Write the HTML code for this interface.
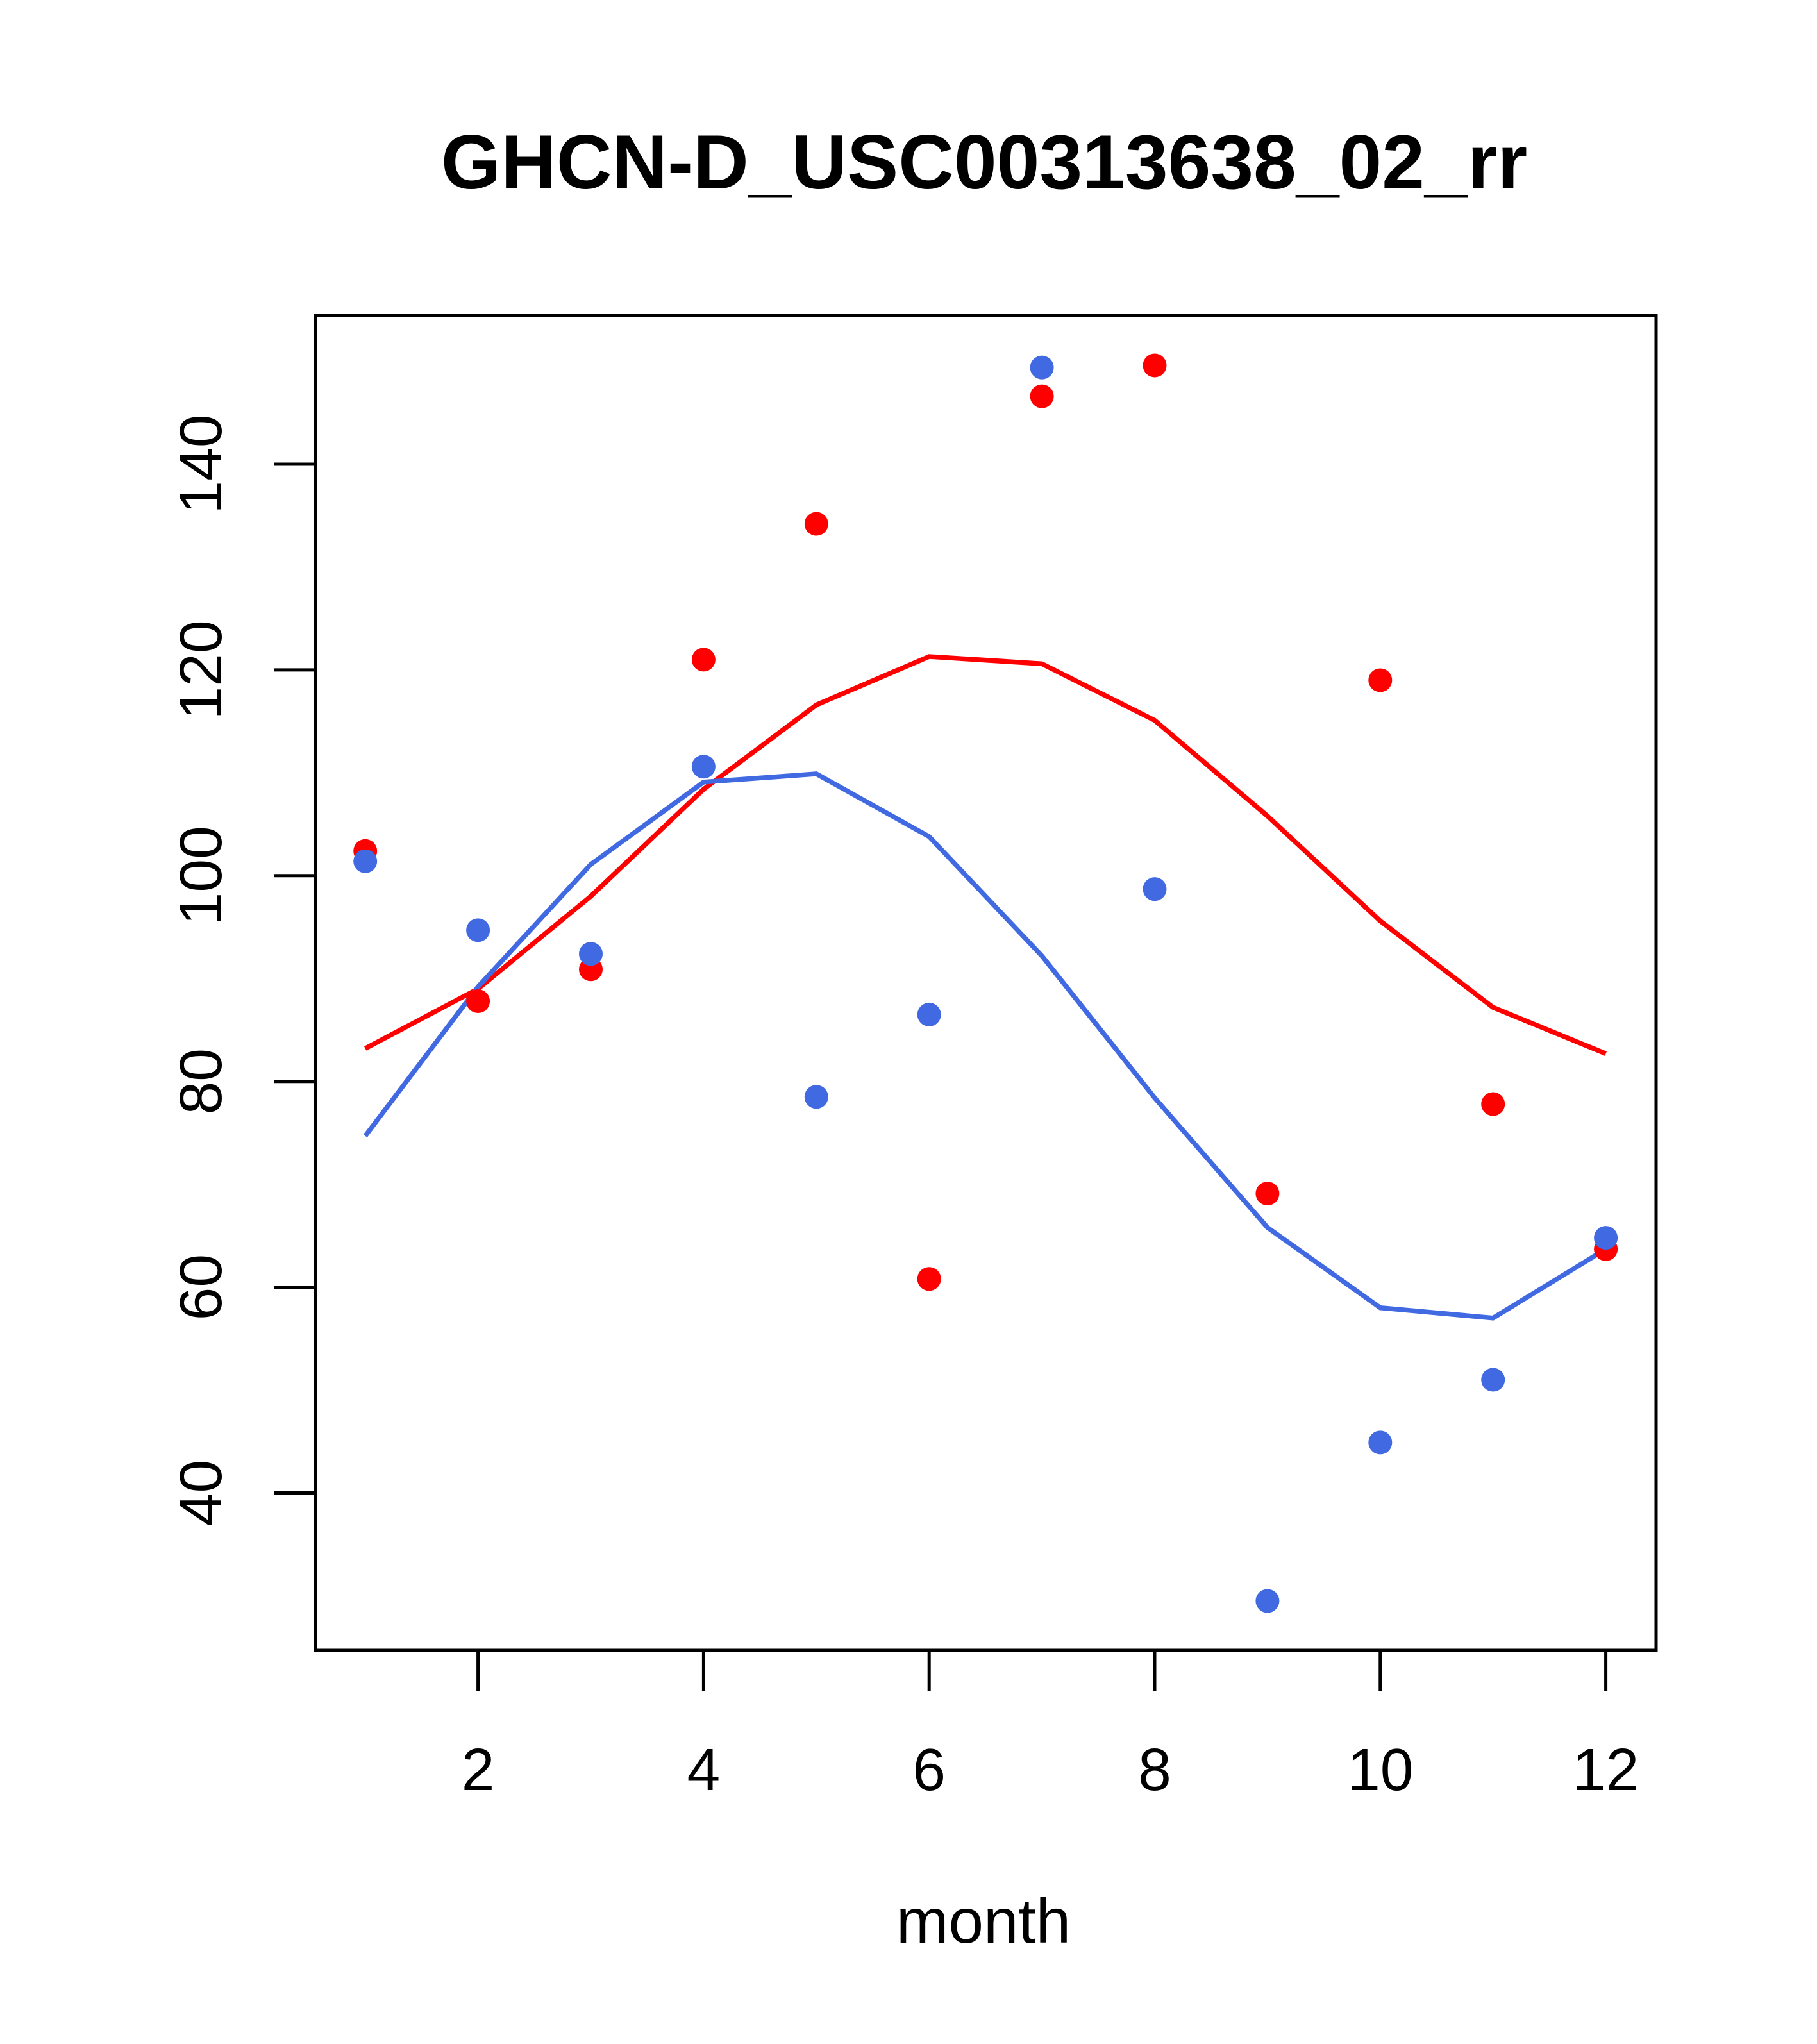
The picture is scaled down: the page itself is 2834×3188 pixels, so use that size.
<!DOCTYPE html>
<html><head><meta charset="utf-8"><style>html,body{margin:0;padding:0;background:#fff}svg{display:block}</style></head>
<body>
<svg id="chart" xmlns="http://www.w3.org/2000/svg" width="2834" height="3188" viewBox="0 0 2834 3188" font-family="Liberation Sans, sans-serif">
<rect width="2834" height="3188" fill="#fff"/>
<text x="1535" y="294" font-size="120" font-weight="bold" text-anchor="middle">GHCN-D_USC00313638_02_rr</text>
<rect x="491.5" y="492.5" width="2091.5" height="2081.5" fill="none" stroke="#000" stroke-width="5"/>
<text x="1534" y="3030" font-size="98" text-anchor="middle">month</text>
<g id="axes"></g>
<g id="series"></g>
</svg>
<script>
const months = [1,2,3,4,5,6,7,8,9,10,11,12];
const redPoints = [102.4,87.8,90.9,121,134.2,60.8,146.6,149.6,69.1,119,77.8,63.7];
const bluePoints = [101.4,94.7,92.4,110.6,78.5,86.5,149.4,98.7,29.5,44.9,51,64.8];
const redLine = [83.2,89,98,108.4,116.6,121.3,120.6,115.1,105.8,95.6,87.2,82.7];
const blueLine = [74.7,89.2,101.1,109.1,109.9,103.8,92.2,78.4,65.8,58,57,63.7];
const xTicks = [2,4,6,8,10,12];
const yTicks = [40,60,80,100,120,140];

const NS = "http://www.w3.org/2000/svg";
function xs(m){ return 569.7 + (m-1)*175.9; }
function ys(v){ return 2328.5 - (v-40)*16.045; }
function mk(tag, attrs, parent){
  const e = document.createElementNS(NS, tag);
  for (const k in attrs) e.setAttribute(k, attrs[k]);
  parent.appendChild(e); return e;
}
const axes = document.getElementById('axes');
const series = document.getElementById('series');
const xl = mk('line',{x1:xs(2),x2:xs(12),y1:2574,y2:2574,stroke:'#000','stroke-width':5},axes);


xTicks.forEach(t=>{
  const l = mk('line',{x1:xs(t),x2:xs(t),y1:2574,y2:2637,stroke:'#000','stroke-width':5},axes);
  
  
  const tx = mk('text',{x:xs(t),y:2792,'font-size':93,'text-anchor':'middle'},axes);
  tx.textContent = t;
  
  
});
const yl = mk('line',{x1:491.5,x2:491.5,y1:ys(40),y2:ys(140),stroke:'#000','stroke-width':5},axes);


yTicks.forEach(t=>{
  const l = mk('line',{x1:428,x2:491.5,y1:ys(t),y2:ys(t),stroke:'#000','stroke-width':5},axes);
  
  
  const tx = mk('text',{x:0,y:0,'font-size':93,'text-anchor':'middle',transform:`translate(345,${ys(t)}) rotate(-90)`},axes);
  tx.textContent = t;
  
  
});
function line(vals,color,name){
  const p = mk('polyline',{points:months.map((m,i)=>xs(m)+','+ys(vals[i])).join(' '),fill:'none',stroke:color,'stroke-width':7.5},series);
  
  
}
function pts(vals,color,name){
  months.forEach((m,i)=>{
    const c = mk('circle',{cx:xs(m),cy:ys(vals[i]),r:18.5,fill:color},series);
    
    
  });
}
line(redLine,'#ff0000','red-smooth-line');
line(blueLine,'#4169e1','blue-smooth-line');
pts(redPoints,'#ff0000','red-point');
pts(bluePoints,'#4169e1','blue-point');
</script>
</body></html>
